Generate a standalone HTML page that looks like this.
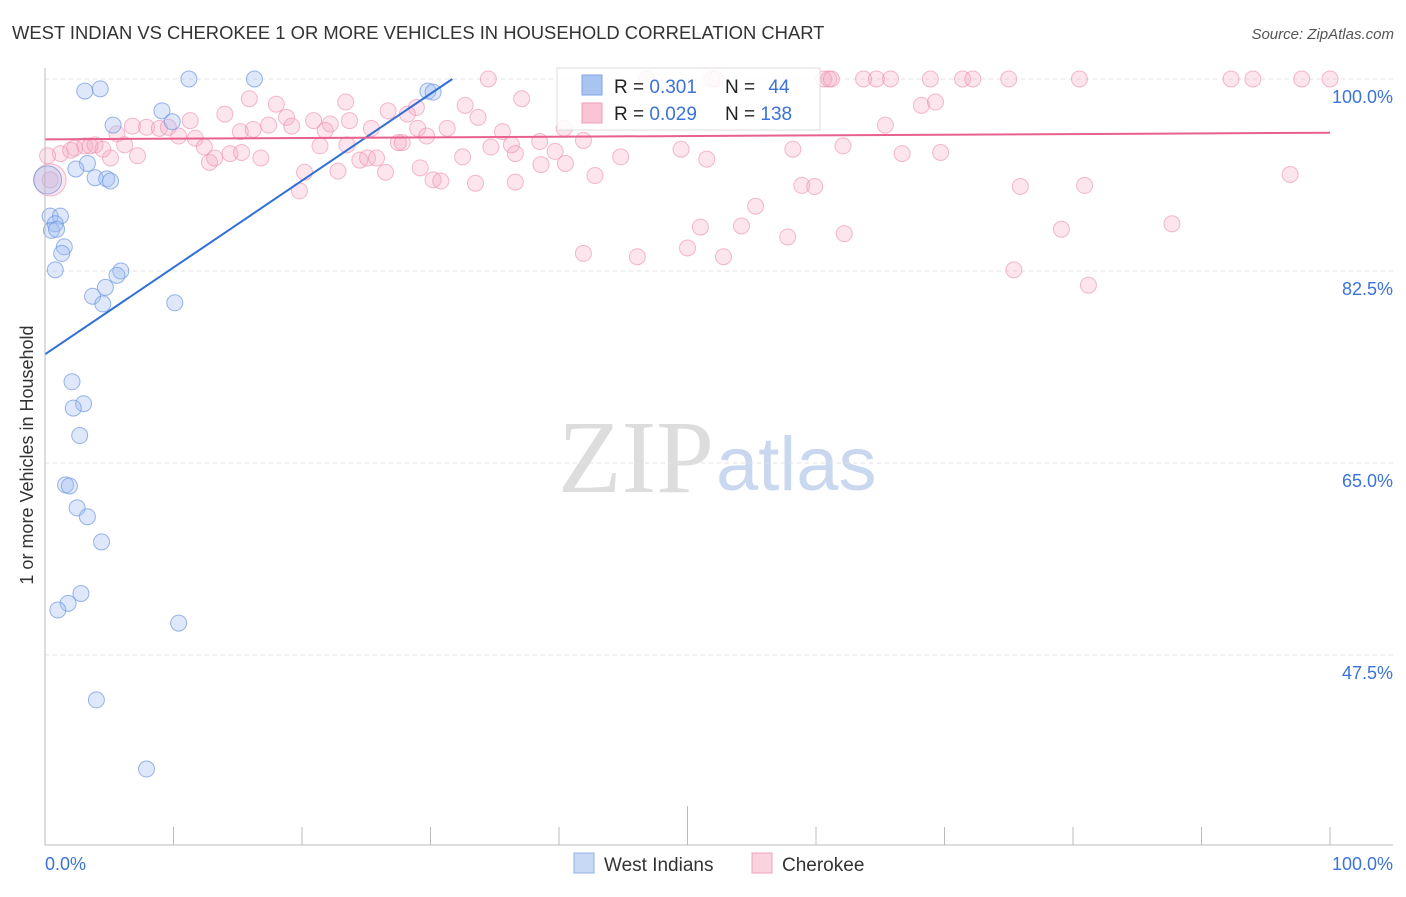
<!DOCTYPE html>
<html><head><meta charset="utf-8"><style>
body{margin:0;background:#fff;font-family:"Liberation Sans",sans-serif;}
</style></head><body>
<svg id="c" width="1406" height="892" xmlns="http://www.w3.org/2000/svg">
<text x="12" y="39" font-size="18.4" fill="#333">WEST INDIAN VS CHEROKEE 1 OR MORE VEHICLES IN HOUSEHOLD CORRELATION CHART</text>
<text x="1394" y="39" font-size="15" fill="#555" text-anchor="end" font-style="italic">Source: ZipAtlas.com</text>
<text x="714" y="492" font-size="104" fill="#ddd" text-anchor="end" font-family="Liberation Serif">ZIP</text>
<text x="716" y="490" font-size="76" fill="#c9d8ef">atlas</text>
<g id="grid"></g>
<g id="pts"></g>
<g id="trend"></g>
<line x1="45" y1="68" x2="45" y2="845" stroke="#bbb"/>
<line x1="45" y1="845" x2="1393" y2="845" stroke="#bbb"/>
<text x="33" y="455" font-size="18" fill="#333" text-anchor="middle" transform="rotate(-90 33 455)">1 or more Vehicles in Household</text>
<text x="45" y="870" font-size="18" fill="#3b73d9">0.0%</text>
<text x="1393" y="870" font-size="18" fill="#3b73d9" text-anchor="end">100.0%</text>
<g>
<rect x="557" y="68" width="263" height="62" fill="#fff" fill-opacity="0.85" stroke="#ddd"/>
<rect x="582" y="75" width="20" height="20" fill="#a9c4f0" stroke="#7ea3e6"/>
<rect x="582" y="103" width="20" height="20" fill="#f9c4d4" stroke="#ef9fb9"/>
<text x="614" y="93" font-size="19" fill="#222">R = <tspan fill="#3b73d9">0.301</tspan></text>
<text x="725" y="93" font-size="19" fill="#222">N = <tspan fill="#3b73d9" dx="8">44</tspan></text>
<text x="614" y="120" font-size="19" fill="#222">R = <tspan fill="#3b73d9">0.029</tspan></text>
<text x="725" y="120" font-size="19" fill="#222">N = <tspan fill="#3b73d9">138</tspan></text>
</g>
<g>
<rect x="574" y="853" width="20" height="20" fill="#c8d9f5" stroke="#8fb0e8"/>
<text x="604" y="871" font-size="19" fill="#333">West Indians</text>
<rect x="752" y="853" width="20" height="20" fill="#fbd3df" stroke="#f0a0bc"/>
<text x="782" y="871" font-size="19" fill="#333">Cherokee</text>
</g>
</svg>
<script>
const yTicks=[100,82.5,65,47.5];
const xTicks=[0,10,20,30,40,50,60,70,80,90,100];
const blueX=[0.2,11.2,16.3,4.3,3.1,29.8,30.2,9.1,5.3,9.9,3.3,2.4,3.9,4.8,5.1,0.4,1.2,0.8,0.5,0.9,1.5,1.3,0.8,5.9,5.6,4.7,3.7,4.5,10.1,2.1,3.0,2.2,2.7,1.6,1.9,2.5,3.3,4.4,2.8,1.8,1.0,10.4,4.0,7.9];
const blueY=[90.8,100,100,99.1,98.9,98.9,98.8,97.1,95.8,96.1,92.3,91.8,91.0,90.9,90.7,87.5,87.5,86.8,86.2,86.3,84.7,84.1,82.6,82.5,82.1,81.0,80.2,79.5,79.6,72.4,70.4,70.0,67.5,63.0,62.9,60.9,60.1,57.8,53.1,52.2,51.6,50.4,43.4,37.1];
const blueSize=[14,8,8,8,8,8,8,8,8,8,8,8,8,8,8,8,8,8,8,8,8,8,8,8,8,8,8,8,8,8,8,8,8,8,8,8,8,8,8,8,8,8,8,8];
const pinkX=[34.5,51.9,46.8,60.6,61.0,61.2,63.7,64.7,65.8,68.9,71.4,72.2,75.0,80.5,92.3,94.0,97.8,100,52.2,
15.9,18.0,23.4,37.1,32.7,28.9,26.7,28.2,68.2,69.3,14.0,11.3,6.8,7.9,8.9,9.6,5.6,10.4,11.7,15.2,16.2,17.4,18.8,19.2,20.9,22.2,21.8,23.7,25.4,29.0,31.3,33.7,35.6,40.4,65.4,27.5,27.8,29.7,34.7,36.3,36.6,38.5,39.7,41.9,49.5,51.5,58.2,62.1,69.7,1.2,2.3,3.1,3.9,4.5,5.1,6.2,7.2,12.4,12.8,13.2,14.4,15.3,16.8,21.4,23.5,24.5,25.1,25.8,26.5,29.2,30.2,30.8,32.5,33.5,36.6,38.6,40.5,42.8,44.8,66.7,80.9,19.8,20.2,22.8,55.3,58.9,59.9,51.0,54.2,62.2,57.8,87.7,79.1,41.9,46.1,50.0,52.8,75.9,96.9,75.4,81.2,0.2,0.4,2.0,3.5];
const pinkY=[100,100,100,100,100,100,100,100,100,100,100,100,100,100,100,100,100,100,100,
98.2,97.7,97.9,98.2,97.6,97.4,97.1,96.8,97.6,97.9,96.8,96.2,95.7,95.6,95.5,95.6,95.0,94.8,94.6,95.2,95.4,95.8,96.5,95.7,96.2,95.9,95.3,96.2,95.5,95.5,95.5,96.5,95.2,95.5,95.8,94.2,94.2,94.8,93.8,94.0,93.2,94.3,93.4,94.4,93.6,92.7,93.6,93.9,93.3,93.2,93.7,93.9,94.0,93.6,92.8,94.0,93.0,93.8,92.4,92.8,93.2,93.3,92.8,93.9,94.0,92.6,92.8,92.8,91.5,91.9,90.8,90.7,92.9,90.5,90.6,92.2,92.3,91.2,92.9,93.2,90.3,89.8,91.5,91.6,88.4,90.3,90.2,86.5,86.6,85.9,85.6,86.8,86.3,84.1,83.8,84.6,83.8,90.2,91.3,82.6,81.2,93.0,90.8,93.5,93.9];
const blueTrend=[0,74.9,31.7,100];
const pinkTrend=[0,94.5,100,95.1];
const NS='http://www.w3.org/2000/svg';
const X=v=>45+v*12.85, Y=v=>79+(100-v)*10.97;
function mk(t,a,p){const e=document.createElementNS(NS,t);for(const k in a)e.setAttribute(k,a[k]);p.appendChild(e);return e;}
const grid=document.getElementById('grid');
yTicks.forEach(t=>{
 const l=mk('line',{x1:45,x2:1393,y1:Y(t),y2:Y(t),stroke:'#e2e2e2','stroke-dasharray':'4 4'},grid);
 
 
 const tx=mk('text',{x:1393,y:Y(t)+24,'font-size':18,fill:'#3b73d9','text-anchor':'end'},grid);
 tx.textContent=t.toFixed(1)+'%';
 
 
});
xTicks.forEach((t,i)=>{
 const l=mk('line',{x1:X(t),x2:X(t),y1:(i==5?806:827),y2:845,stroke:'#bbb'},grid);
 
 
});
const pts=document.getElementById('pts');
const bigPink=mk('circle',{cx:X(0.4),cy:Y(90.8),r:16,fill:'rgba(246,170,196,0.3)',stroke:'rgba(236,140,175,0.6)'},pts);


pinkX.forEach((x,i)=>{
 const c=mk('circle',{cx:X(x),cy:Y(pinkY[i]),r:8,fill:'rgba(246,170,196,0.3)',stroke:'rgba(236,140,175,0.6)','stroke-width':1},pts);
 
 
});
blueX.forEach((x,i)=>{
 const c=mk('circle',{cx:X(x),cy:Y(blueY[i]),r:blueSize[i],fill:'rgba(160,190,240,0.35)',stroke:'rgba(110,150,225,0.7)','stroke-width':1},pts);
 
 
});
const tr=document.getElementById('trend');
const b=mk('line',{x1:X(blueTrend[0]),y1:Y(blueTrend[1]),x2:X(blueTrend[2]),y2:Y(blueTrend[3]),stroke:'#2f6fd6','stroke-width':2},tr);


const p=mk('line',{x1:X(pinkTrend[0]),y1:Y(pinkTrend[1]),x2:X(pinkTrend[2]),y2:Y(pinkTrend[3]),stroke:'#e8608c','stroke-width':2},tr);


</script>
</body></html>
